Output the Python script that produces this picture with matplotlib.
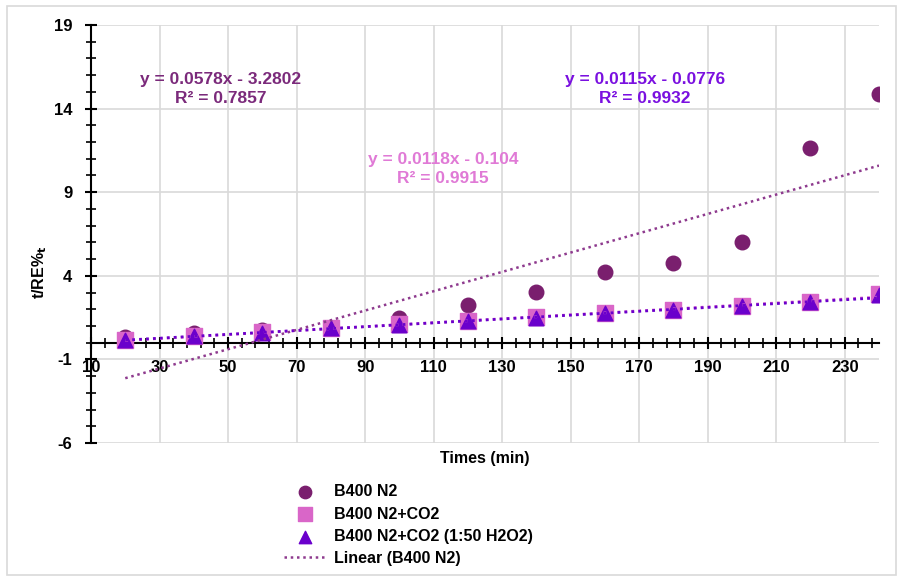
import numpy as np
import matplotlib.pyplot as plt
from matplotlib.patches import Rectangle
from matplotlib.ticker import MultipleLocator

plt.rcParams['font.family'] = ['Liberation Sans', 'DejaVu Sans']
plt.rcParams['font.weight'] = 'bold'
plt.rcParams['axes.unicode_minus'] = False

# data
times = [20, 40, 60, 80, 100, 120, 140, 160, 180, 200, 220, 240]
b400_n2 = [0.35, 0.55, 0.75, 0.85, 1.5, 2.26, 3.04, 4.2, 4.74, 6.05, 11.65, 14.9]
b400_n2_co2 = [0.15, 0.4, 0.65, 0.85, 1.1, 1.3, 1.53, 1.77, 1.96, 2.2, 2.46, 2.9]
b400_n2_co2_h2o2 = [0.15, 0.4, 0.6, 0.85, 1.05, 1.3, 1.5, 1.75, 1.95, 2.2, 2.45, 2.85]

# trendline coefficients shown on the chart
fit_n2 = (0.0578, -3.2802, 0.7857)
fit_co2 = (0.0118, -0.104, 0.9915)
fit_h2o2 = (0.0115, -0.0776, 0.9932)

c_n2 = '#7A1F6E'
c_co2 = '#D966C8'
c_h2o2 = '#6A00CC'
c_trend_n2 = '#8E3A8E'
c_txt_n2 = '#7B2A7B'
c_txt_co2 = '#E07AD6'
c_txt_h2o2 = '#7A10E0'

fig = plt.figure(figsize=(9.03, 5.81), dpi=100)
fig.patches.append(Rectangle((7/903, 6/581), 889/903, 569/581, transform=fig.transFigure,
                             fill=False, edgecolor='#D9D9D9', linewidth=1.2))
ax = fig.add_axes([91/903, 1-443/581, 788/903, 418/581])

ax.set_xlim(10, 240)
ax.set_ylim(-6, 19)

# gridlines
for gx in np.arange(10, 240, 20):
    ax.plot([gx, gx], [-6, 19], color='#D9D9D9', lw=1.2, zorder=0)
for gy in np.arange(-6, 20, 5):
    ax.plot([10, 240], [gy, gy], color='#D9D9D9', lw=1.2, zorder=0)

ax.scatter(times, b400_n2, s=110, marker='o', color=c_n2, zorder=3, label='B400 N2')
ax.scatter(times, b400_n2_co2, s=125, marker='s', color=c_co2, zorder=4, label='B400 N2+CO2')
ax.scatter(times, b400_n2_co2_h2o2, s=110, marker='^', color=c_h2o2, zorder=5,
           label='B400 N2+CO2 (1:50 H2O2)')

tx = np.array([times[0], times[-1]])
ax.plot(tx, fit_co2[0]*tx + fit_co2[1], ls=(0, (1, 1.5)), color=c_co2, lw=2, zorder=6)
ax.plot(tx, fit_h2o2[0]*tx + fit_h2o2[1], ls=(0, (1, 1.5)), color=c_h2o2, lw=2, zorder=6)
ax.plot(tx, fit_n2[0]*tx + fit_n2[1], ls=(0, (1, 1.5)), color=c_trend_n2, lw=1.8, zorder=6,
        label='Linear (B400 N2)')

def eq_label(x, y, fit, color):
    fig.text(x/903, 1-y/581, f'y = {fit[0]}x - {-fit[1]}\nR² = {fit[2]}',
             ha='center', va='center', color=color, fontsize=12.5, fontweight='bold',
             linespacing=1.3)

eq_label(221, 89, fit_n2, c_txt_n2)
eq_label(443, 169, fit_co2, c_txt_co2)
eq_label(645, 89, fit_h2o2, c_txt_h2o2)

# axes
ax.spines['top'].set_visible(False)
ax.spines['right'].set_visible(False)
ax.spines['bottom'].set_position(('data', 0))
ax.spines['left'].set_linewidth(1.5)
ax.spines['bottom'].set_linewidth(1.5)
ax.xaxis.set_major_locator(MultipleLocator(20, offset=10))
ax.xaxis.set_minor_locator(MultipleLocator(4, offset=2))
ax.yaxis.set_major_locator(MultipleLocator(5, offset=4))
ax.yaxis.set_minor_locator(MultipleLocator(1))
ax.tick_params(which='major', direction='inout', length=9, width=1.5, labelsize=12)
ax.tick_params(axis='y', which='major', pad=9)
ax.tick_params(axis='x', which='major', pad=8)
ax.tick_params(which='minor', direction='inout', length=7, width=1.2)
for lbl in ax.get_xticklabels() + ax.get_yticklabels():
    lbl.set_fontweight('bold')

fig.text(485/903, 1-458/581, 'Times (min)', ha='center', va='center', fontsize=11.5, fontweight='bold')
fig.text(40/903, 1-272/581, r't/RE%$_\mathbf{t}$', ha='center', va='center', rotation=90,
         fontsize=11.5, fontweight='bold')

fig.legend(loc='upper left', bbox_to_anchor=(278/903, 1-478/581), frameon=False,
           prop={'weight': 'bold', 'size': 11.5}, handlelength=2.6, handletextpad=0.5,
           labelspacing=0.45, borderaxespad=0, markerscale=0.85)

fig.savefig('out.png', dpi=100)
